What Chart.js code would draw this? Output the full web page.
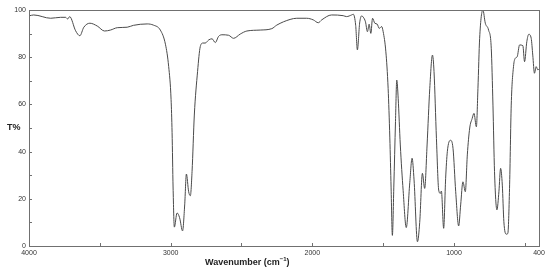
<!DOCTYPE html>
<html>
<head>
<meta charset="utf-8">
<title>IR spectrum</title>
<script src="https://cdn.jsdelivr.net/npm/chart.js@4/dist/chart.umd.min.js"></script>
<style>
    body { margin: 0; background: #fff; }
    #wrap { position: relative; width: 550px; height: 273px; font-family: "Liberation Sans", Arial, sans-serif; }
    #yTitle { position: absolute; left: 7px; top: 122px; font-size: 9px; font-weight: bold; color: #222; }
    #xTitle { position: absolute; left: 205px; top: 256px; font-size: 9px; font-weight: bold; color: #222; white-space: nowrap; }
    #xTitle sup { font-size: 6px; }
</style>
</head>
<body>
<div id="wrap">
    <canvas id="irChart" width="550" height="273"></canvas>
    <div id="yTitle">T%</div>
    <div id="xTitle">Wavenumber (cm<sup>−1</sup>)</div>
</div>
<script>
// Du lieu pho IR (doc tu hinh)
var wavenumbers = [4000, 3967, 3847, 3777, 3742, 3727, 3713, 3671, 3641, 3613, 3570, 3518, 3467, 3425, 3377, 3307, 3263, 3166, 3122, 3073,
    3037, 3014, 2997, 2990, 2983, 2974, 2955, 2937, 2916, 2901, 2889, 2873, 2861, 2849, 2833, 2810, 2791, 2772, 2756, 2732,
    2708, 2685, 2662, 2638, 2591, 2556, 2509, 2462, 2368, 2286, 2251, 2157, 2110, 2040, 1993, 1958, 1934, 1864, 1782, 1758,
    1723, 1711, 1694, 1682, 1666, 1652, 1641, 1625, 1611, 1599, 1587, 1575, 1559, 1542, 1528, 1511, 1500, 1481, 1465, 1453,
    1444, 1435, 1425, 1413, 1404, 1394, 1379, 1359, 1337, 1312, 1296, 1282, 1258, 1242, 1223, 1207, 1190, 1171, 1152, 1141,
    1124, 1108, 1096, 1089, 1073, 1059, 1047, 1025, 1007, 988, 967, 953, 937, 920, 906, 889, 872, 859, 842, 831,
    819, 796, 779, 756, 737, 725, 714, 697, 683, 671, 659, 648, 631, 620, 608, 596, 580, 568, 554, 537,
    514, 502, 486, 472, 455, 444, 432, 420, 408, 400];

var transmittance = [97.5, 97.9, 96.5, 96.9, 96.9, 96.2, 97.2, 91.2, 89.1, 92.7, 94.4, 93.2, 91.1, 91.5, 92.5, 92.7, 93.5, 94.1, 93.6, 91.5,
    85.5, 76, 62, 48, 25, 8, 14, 12, 6.4, 17.4, 30.5, 23, 21.3, 31.5, 55.5, 74, 84.5, 86, 86, 87.3,
    87.8, 86.2, 88.8, 89.5, 89.3, 88, 89.8, 91.1, 91.5, 92.1, 93.6, 96, 96.5, 96.5, 95.8, 94.6, 95.8, 97.9, 97.6, 97.2,
    97.9, 98.2, 93.5, 83.1, 94.5, 97.5, 97, 95, 90.8, 94, 90.1, 96.5, 94.4, 94, 92.2, 93, 90.8, 82.3, 66.8, 45.8,
    24.6, 4.5, 24.6, 52.7, 70.3, 62.6, 42.8, 23.5, 7.8, 27, 37.2, 28, 1.8, 10, 30.8, 24.4, 42.8, 66.8, 80.9, 73.9,
    45.6, 23.7, 22.3, 23.3, 7.5, 28.7, 40, 44.8, 41.4, 23, 8.5, 17.4, 27.2, 23, 38.6, 50, 54, 56.2, 50.5, 66.8,
    88, 100, 94.4, 91.5, 83.8, 59.7, 31.5, 15.3, 23, 32.9, 25.8, 10.3, 5, 5.3, 24.4, 59.7, 76, 79.5, 80.2, 85.2,
    84.9, 78.1, 86.6, 89.7, 88, 80.9, 73.2, 76, 74.6, 75];

// Vach chia truc
var xTickValues = [4000, 3500, 3000, 2500, 2000, 1500, 1000, 500, 400];
var xTickLabels = [4000, 3000, 2000, 1000, 400];
var yTickLabels = [0, 20, 40, 60, 80, 100];

// Khung va vach chia huong vao trong
var frameAndTicks = {
    id: 'frameAndTicks',
    afterDraw: function(chart) {
        var ctx = chart.ctx;
        var a = chart.chartArea;
        ctx.save();
        ctx.strokeStyle = '#707070';
        ctx.lineWidth = 1;
        ctx.strokeRect(a.left + 0.5, a.top + 0.5, a.right - a.left, a.bottom - a.top);
        ctx.beginPath();
        chart.scales.x.ticks.forEach(function(t) {
            var px = Math.round(chart.scales.x.getPixelForValue(t.value)) + 0.5;
            ctx.moveTo(px, a.bottom);
            ctx.lineTo(px, a.bottom - 3);
        });
        chart.scales.y.ticks.forEach(function(t) {
            var py = Math.round(chart.scales.y.getPixelForValue(t.value)) + 0.5;
            ctx.moveTo(a.left, py);
            ctx.lineTo(a.left + 3, py);
        });
        ctx.stroke();
        ctx.restore();
    }
};

var points = wavenumbers.map(function(w, i) {
    return { x: w, y: transmittance[i] };
});

var tickFont = { family: '"Liberation Sans", Arial, sans-serif', size: 7 };

new Chart(document.getElementById('irChart').getContext('2d'), {
    type: 'line',
    data: {
        datasets: [{
            data: points,
            borderColor: '#4a4a4a',
            borderWidth: 1,
            pointRadius: 0,
            cubicInterpolationMode: 'monotone',
            fill: false
        }]
    },
    options: {
        responsive: false,
        animation: false,
        devicePixelRatio: 1,
        layout: { padding: { top: 10, right: 11, left: 0, bottom: 0 } },
        plugins: {
            legend: { display: false },
            tooltip: { enabled: false }
        },
        scales: {
            x: {
                type: 'linear',
                reverse: true,
                min: 400,
                max: 4000,
                grid: { display: false, drawTicks: false },
                border: { display: false },
                afterBuildTicks: function(scale) {
                    scale.ticks = xTickValues.map(function(v) { return { value: v }; });
                },
                afterFit: function(scale) { scale.height = 27; },
                ticks: {
                    autoSkip: false,
                    maxRotation: 0,
                    padding: 3,
                    color: '#333',
                    font: tickFont,
                    callback: function(v) { return xTickLabels.indexOf(v) >= 0 ? String(v) : ''; }
                }
            },
            y: {
                min: 0,
                max: 100,
                grid: { display: false, drawTicks: false },
                border: { display: false },
                afterFit: function(scale) { scale.width = 29; },
                ticks: {
                    stepSize: 10,
                    padding: 3,
                    color: '#333',
                    font: tickFont,
                    callback: function(v) { return yTickLabels.indexOf(v) >= 0 ? String(v) : ''; }
                }
            }
        }
    },
    plugins: [frameAndTicks]
});
</script>
</body>
</html>
